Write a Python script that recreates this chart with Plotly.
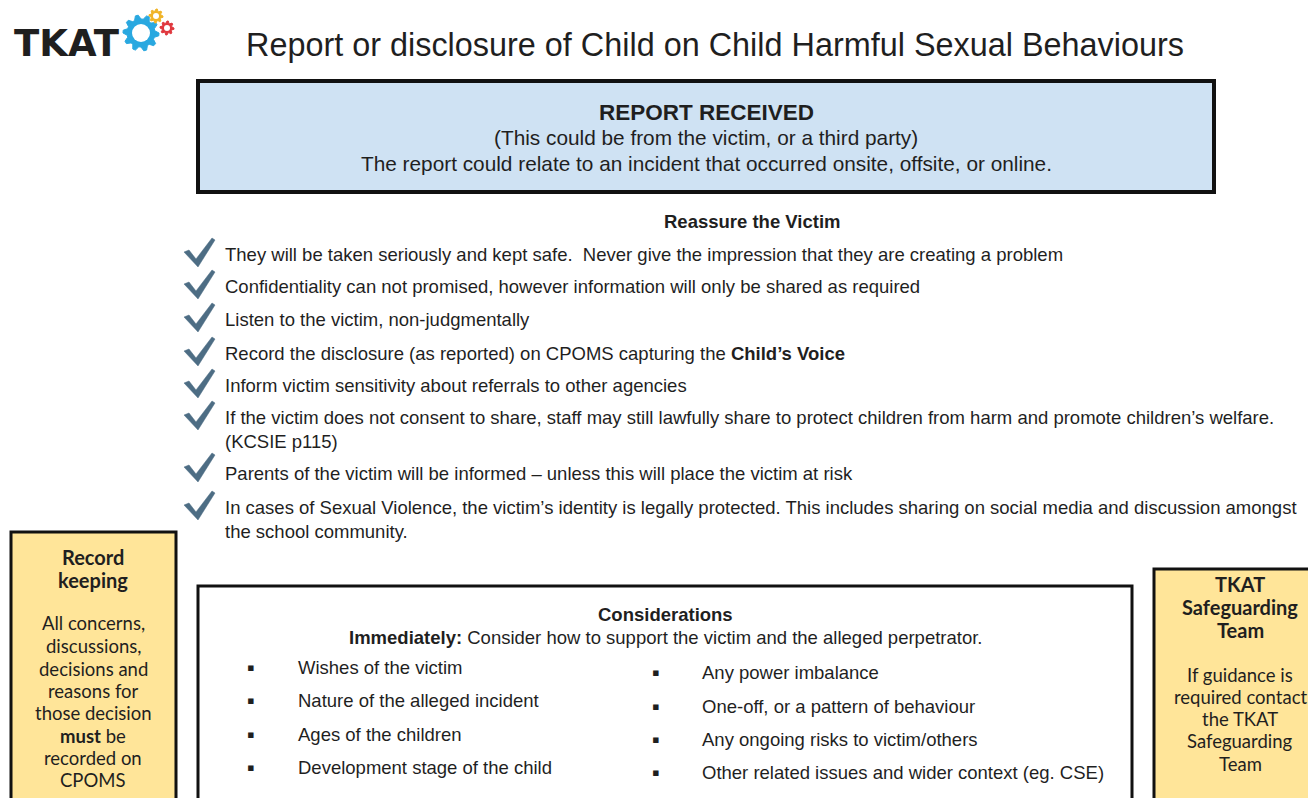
import math
import plotly.graph_objects as go

# ---- content ----
title_text = "Report or disclosure of Child on Child Harmful Sexual Behaviours"
logo_text = "TKAT"
report_lines = ["<b>REPORT RECEIVED</b>",
                "(This could be from the victim, or a third party)",
                "The report could relate to an incident that occurred onsite, offsite, or online."]
reassure_heading = "<b>Reassure the Victim</b>"
reassure_items = [
    "They will be taken seriously and kept safe.  Never give the impression that they are creating a problem",
    "Confidentiality can not promised, however information will only be shared as required",
    "Listen to the victim, non-judgmentally",
    "Record the disclosure (as reported) on CPOMS capturing the <b>Child’s Voice</b>",
    "Inform victim sensitivity about referrals to other agencies",
    "If the victim does not consent to share, staff may still lawfully share to protect children from harm and promote children’s welfare.<br>(KCSIE p115)",
    "Parents of the victim will be informed – unless this will place the victim at risk",
    "In cases of Sexual Violence, the victim’s identity is legally protected. This includes sharing on social media and discussion amongst<br>the school community.",
]
record_lines = ["<b>Record</b>", "<b>keeping</b>", "", "All concerns,", "discussions,", "decisions and",
                "reasons for", "those decision", "<b>must</b> be", "recorded on", "CPOMS"]
tkat_lines = ["<b>TKAT</b>", "<b>Safeguarding</b>", "<b>Team</b>", "", "If guidance is", "required contact",
              "the TKAT", "Safeguarding", "Team"]
consid_heading = "<b>Considerations</b>"
consid_sub = "<b>Immediately:</b> Consider how to support the victim and the alleged perpetrator."
consid_left = ["Wishes of the victim", "Nature of the alleged incident", "Ages of the children",
               "Development stage of the child"]
consid_right = ["Any power imbalance", "One-off, or a pattern of behaviour", "Any ongoing risks to victim/others",
                "Other related issues and wider context (eg. CSE)"]

W, H = 1316, 798
OFF = 8  # page body margin in the browser
FONT = "Liberation Sans, Arial, sans-serif"
TXT = "#1f1f1f"
BODY = 18.5

fig = go.Figure()
shapes = []
ann = []

def text(x, y, s, size, xanchor="left", color=TXT, family=FONT):
    ann.append(dict(x=x, y=y, text=s, showarrow=False, xanchor=xanchor, yanchor="middle",
                    xref="x", yref="y", font=dict(size=size, color=color, family=family),
                    align=xanchor if xanchor != "center" else "center"))

def rect(x0, y0, x1, y1, fill, lw=3):
    shapes.append(dict(type="rect", x0=x0, y0=y0, x1=x1, y1=y1, xref="x", yref="y",
                       fillcolor=fill, line=dict(color="#111111", width=lw), layer="below"))

def gear(cx, cy, r_out, r_in, teeth, color, hole=None):
    pts = []
    n = teeth * 4
    for i in range(n):
        a = 2 * math.pi * i / n
        r = r_out if (i % 4) in (0, 1) else r_in
        pts.append((cx + r * math.cos(a), cy + r * math.sin(a)))
    p = "M " + " L ".join(f"{x:.1f},{y:.1f}" for x, y in pts) + " Z"
    shapes.append(dict(type="path", path=p, xref="x", yref="y", fillcolor=color,
                       line=dict(color=color, width=1), layer="above"))
    if hole:
        shapes.append(dict(type="circle", x0=cx - hole, y0=cy - hole, x1=cx + hole, y1=cy + hole,
                           xref="x", yref="y", fillcolor="white", line=dict(color="white", width=0), layer="above"))

def check(cx, cy, color="#4d6d84"):
    rel = [(-15, -1), (-10, -3), (-3, 6), (13, -15), (16, -13), (-1, 14)]
    p = "M " + " L ".join(f"{cx + dx},{cy + dy}" for dx, dy in rel) + " Z"
    shapes.append(dict(type="path", path=p, xref="x", yref="y", fillcolor=color,
                       line=dict(color=color, width=0.5), layer="above"))

# logo
gear(141, 33, 18, 14, 10, "#29a8e0", hole=9)
gear(156, 16, 7, 5, 8, "#f0b428", hole=3)
gear(167, 28, 7, 5, 8, "#e0383e", hole=3)
text(12, 43, "<b>" + logo_text + "</b>", 37, family="DejaVu Sans, sans-serif")

# title
text(715, 45, title_text, 32.4, xanchor="center")

# report box
rect(198, 81, 1214, 192, "#cfe2f3", lw=4)
text(706, 112, report_lines[0], 22.5, xanchor="center")
text(706, 137, report_lines[1], 20.8, xanchor="center")
text(706, 163, report_lines[2], 20.8, xanchor="center")

# reassure
text(752, 221, reassure_heading, BODY, xanchor="center")
item_y = [254, 286, 319, 353, 385, 429, 473, 519]
check_y = [253, 285, 318, 352, 384, 416, 468, 506]
for s, y, cy in zip(reassure_items, item_y, check_y):
    text(223, y, s, BODY)
    check(199, cy)

# record keeping box
rect(11, 532, 176, 812, "#ffe599", lw=3)
ry = [557, 580, 601, 623, 646, 669, 691, 713, 736, 758, 780]
for i, (s, y) in enumerate(zip(record_lines, ry)):
    if s:
        text(93, y, s, 20 if i < 2 else 18.5, xanchor="center", family="Lato, sans-serif")

# tkat box
rect(1154, 569, 1330, 812, "#ffe599", lw=3)
ty = [584, 607, 630, 652, 675, 697, 719, 741, 764]
for i, (s, y) in enumerate(zip(tkat_lines, ty)):
    if s:
        text(1240, y, s, 20 if i < 3 else 18.5, xanchor="center", family="Lato, sans-serif")

# considerations box
rect(198, 586, 1132, 812, "#ffffff", lw=3)
text(665, 614, consid_heading, BODY, xanchor="center")
text(665, 637, consid_sub, BODY, xanchor="center")
ly = [667, 700, 734, 767]
ryy = [672, 706, 739, 772]
for s, y in zip(consid_left, ly):
    text(245, y, "▪", 22)
    text(296, y, s, BODY)
for s, y in zip(consid_right, ryy):
    text(650, y, "▪", 22)
    text(700, y, s, BODY)

fig.update_layout(
    width=W, height=H, margin=dict(l=0, r=0, t=0, b=0),
    paper_bgcolor="white", plot_bgcolor="white",
    xaxis=dict(range=[OFF, W + OFF], visible=False, fixedrange=True),
    yaxis=dict(range=[H + OFF, OFF], visible=False, fixedrange=True),
    shapes=shapes, annotations=ann, showlegend=False,
)
fig.write_html("out.html")
